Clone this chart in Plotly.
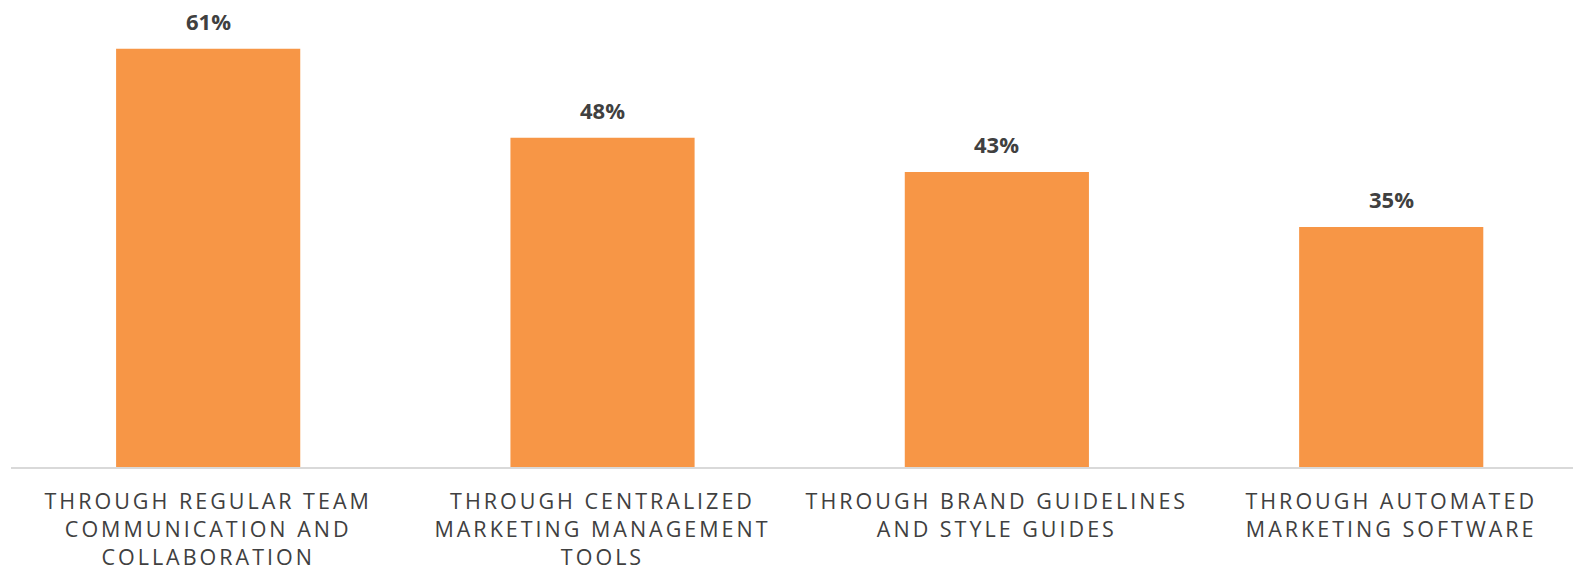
import plotly.graph_objects as go

categories = [
    "THROUGH REGULAR TEAM<br>COMMUNICATION AND<br>COLLABORATION",
    "THROUGH CENTRALIZED<br>MARKETING MANAGEMENT<br>TOOLS",
    "THROUGH BRAND GUIDELINES<br>AND STYLE GUIDES",
    "THROUGH AUTOMATED<br>MARKETING SOFTWARE",
]
values = [61, 48, 43, 35]
value_labels = ["61%", "48%", "43%", "35%"]

BAR_COLOR = "#F79646"
TEXT_COLOR = "#404040"
FONT = "Open Sans"

x_pos = list(range(len(categories)))

fig = go.Figure(
    go.Bar(
        x=x_pos,
        y=values,
        width=0.467,
        marker=dict(color=BAR_COLOR, line=dict(width=0)),
        hoverinfo="skip",
    )
)

for xi, v, lab in zip(x_pos, values, value_labels):
    fig.add_annotation(
        x=xi, y=v, text=f"<b>{lab}</b>", showarrow=False,
        yanchor="bottom", yshift=11,
        font=dict(family=FONT, size=22, color=TEXT_COLOR),
    )

fig.update_layout(
    width=1573,
    height=568,
    margin=dict(l=11, r=0, t=0, b=101, autoexpand=False),
    paper_bgcolor="white",
    plot_bgcolor="white",
    showlegend=False,
    xaxis=dict(
        range=[-0.5, 3.461],
        tickmode="array",
        tickvals=x_pos,
        ticktext=categories,
        tickangle=0,
        automargin=False,
        showgrid=False,
        zeroline=False,
        showline=True,
        linecolor="#d9d9d9",
        linewidth=2,
        ticks="",
        ticklabelstandoff=14,
        tickfont=dict(family=FONT, size=21.5, color=TEXT_COLOR),
        fixedrange=True,
    ),
    yaxis=dict(
        range=[0, 68.1],
        visible=False,
        automargin=False,
        fixedrange=True,
    ),
)

letter_spacing_css = (
    "var s=document.createElement('style');"
    "s.textContent='.xtick text{letter-spacing:3px;}';"
    "document.head.appendChild(s);"
)

fig.write_html("out.html", post_script=letter_spacing_css, config={"displayModeBar": False})
